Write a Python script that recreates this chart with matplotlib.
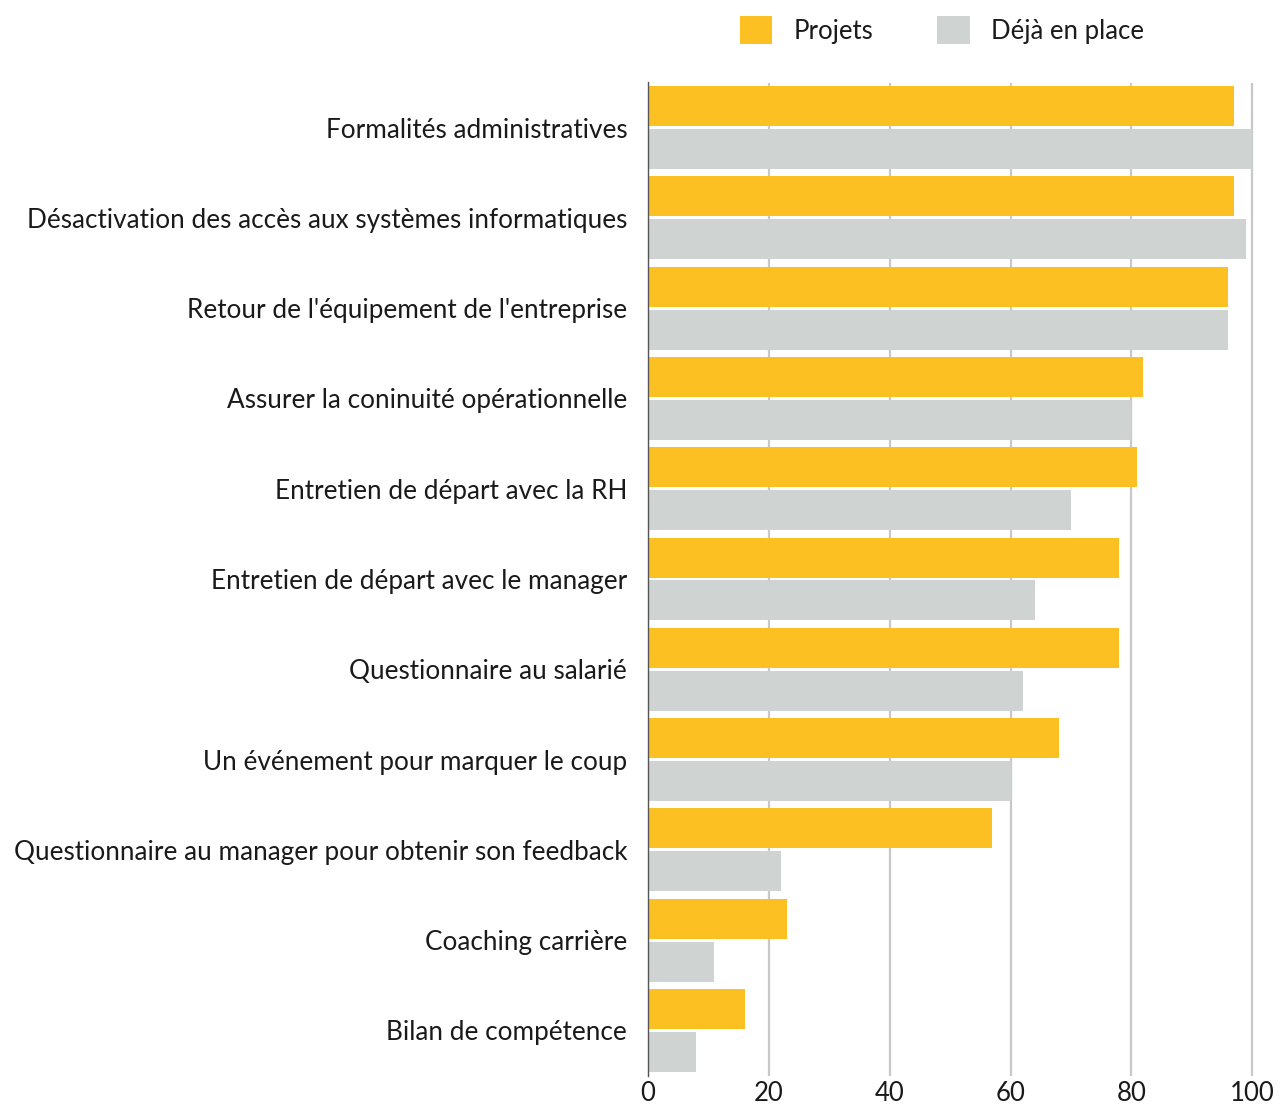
import matplotlib
matplotlib.use("Agg")
import matplotlib.pyplot as plt
from matplotlib.patches import Patch
import numpy as np

categories = [
    "Formalités administratives",
    "Désactivation des accès aux systèmes informatiques",
    "Retour de l'équipement de l'entreprise",
    "Assurer la coninuité opérationnelle",
    "Entretien de départ avec la RH",
    "Entretien de départ avec le manager",
    "Questionnaire au salarié",
    "Un événement pour marquer le coup",
    "Questionnaire au manager pour obtenir son feedback",
    "Coaching carrière",
    "Bilan de compétence",
]
projets = [97, 97, 96, 82, 81, 78, 78, 68, 57, 23, 16]
deja_en_place = [100, 99, 96, 80, 70, 64, 62, 60, 22, 11, 8]
series_names = ["Projets", "Déjà en place"]
x_ticks = [0, 20, 40, 60, 80, 100]

YELLOW = "#FDC022"
GRAY = "#CFD3D1"

plt.rcParams["font.family"] = ["Lato", "DejaVu Sans"]

fig = plt.figure(figsize=(12.83, 11.08), dpi=100)
ax = fig.add_axes([648 / 1283, 1 - 1075.5 / 1108, (1254 - 648) / 1283, (1075.5 - 82.5) / 1108])

# two bars per category: plans on top, already in place below
y = np.arange(len(categories))
h = 0.443
off = 0.238
ax.barh(y - off, projets, height=h, color=YELLOW, zorder=3)
ax.barh(y + off, deja_en_place, height=h, color=GRAY, zorder=3)

ax.set_xlim(0, 100.3)
ax.set_ylim(len(categories) - 0.5, -0.5)
ax.set_xticks(x_ticks)
ax.set_yticks(y)
ax.set_yticklabels(categories, fontsize=18.8, color="#1a1a1a")
ax.tick_params(axis="y", length=0, pad=15)
ax.tick_params(axis="x", length=0, pad=4, labelsize=18.5, labelcolor="#1a1a1a")
ax.grid(axis="x", color="#C8C8C8", linewidth=1.6, zorder=0)
ax.set_axisbelow(True)
for s in ["top", "right", "bottom"]:
    ax.spines[s].set_visible(False)
ax.spines["left"].set_color("#555555")
ax.spines["left"].set_linewidth(1.0)
ax.spines["left"].set_zorder(4)

handles = [Patch(facecolor=YELLOW, edgecolor="none"), Patch(facecolor=GRAY, edgecolor="none")]
fig.legend(handles, series_names, loc="center", bbox_to_anchor=(942 / 1283, 1 - 30 / 1108),
           ncol=2, frameon=False, fontsize=18.5, handlelength=1.25, handleheight=1.25,
           handletextpad=0.85, columnspacing=2.5, labelcolor="#1a1a1a")

fig.savefig("out.png", dpi=100)
